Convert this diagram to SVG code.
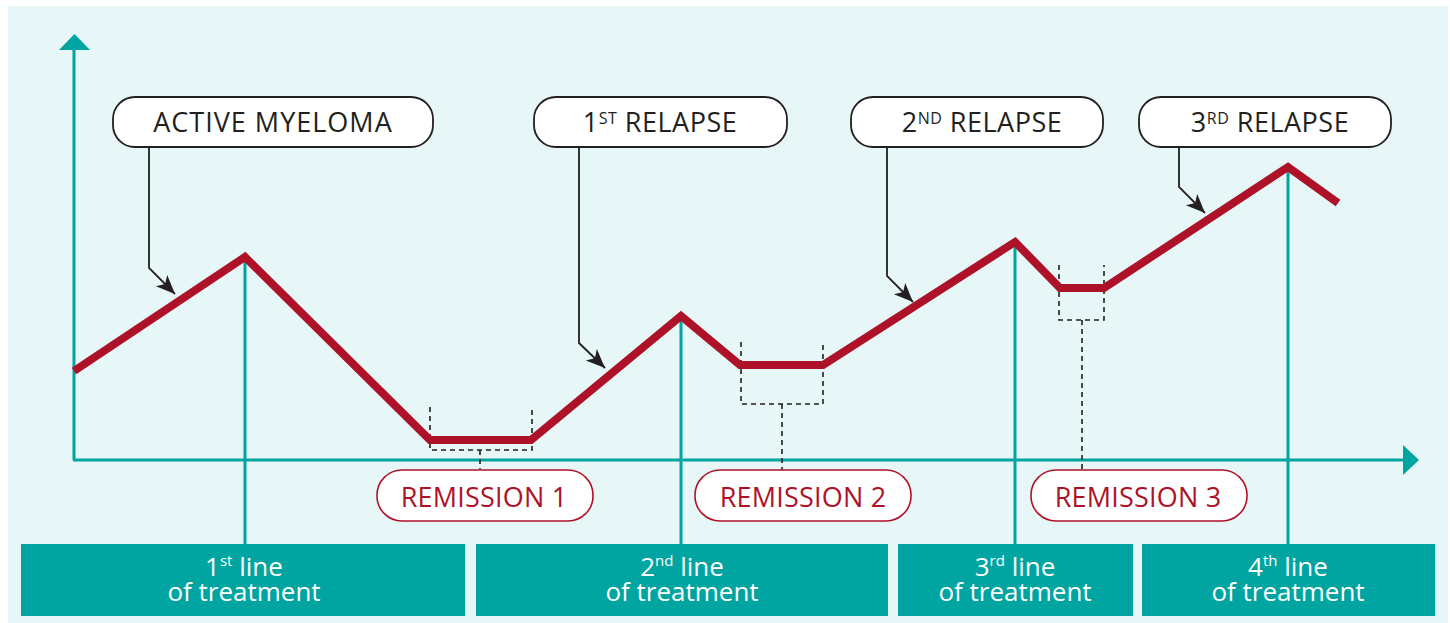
<svg xmlns="http://www.w3.org/2000/svg" width="1450" height="623" viewBox="0 0 1450 623">
  <style>
    .bg { fill: #e7f6f6; }
    .axis { stroke: #00a4a0; stroke-width: 3; fill: none; }
    .vline { stroke: #00a4a0; stroke-width: 3; fill: none; }
    .teal { fill: #00a4a0; }
    .curve { stroke: #ae1228; stroke-width: 8; fill: none; stroke-linejoin: miter; stroke-miterlimit: 10; }
    .callout { fill: #ffffff; stroke: #231f20; stroke-width: 1.8; }
    .pill { fill: #ffffff; stroke: #ae1228; stroke-width: 1.6; }
    .arrow { stroke: #231f20; stroke-width: 1.8; fill: none; }
    .dash { stroke: #231f20; stroke-width: 1.6; fill: none; stroke-dasharray: 5 4; }
    .lbl { font-family: "Open Sans", "Liberation Sans", sans-serif; font-size: 27px; font-weight: 500; fill: #231f20; letter-spacing: 1px; }
    .rel { letter-spacing: 0.5px; }
    .rem { font-family: "Open Sans", "Liberation Sans", sans-serif; font-size: 27px; font-weight: 500; fill: #ae1228; letter-spacing: 0.2px; }
    .tx { font-family: "Open Sans", "Liberation Sans", sans-serif; font-size: 26px; font-weight: 500; fill: #ffffff; }
  </style>
  <defs>
    <marker id="ah" viewBox="-20 -10 22 20" refX="0" refY="0" markerWidth="22" markerHeight="20" markerUnits="userSpaceOnUse" orient="auto">
      <path d="M0,0 L-19,-8 L-14,0 L-19,8 Z" fill="#231f20"/>
    </marker>
  </defs>

  <rect class="bg" x="8" y="6" width="1440" height="617"/>

  <g id="axes">
    <line class="axis" x1="74" y1="48" x2="74" y2="460"/>
    <polygon class="teal" points="59,50 90,50 74.5,34"/>
    <line class="axis" x1="73" y1="460" x2="1405" y2="460"/>
    <polygon class="teal" points="1403,445 1403,475 1419,460"/>
  </g>

  <g id="connectors">
    <line class="vline" x1="245" y1="260" x2="245" y2="545"/>
    <line class="vline" x1="681" y1="318" x2="681" y2="545"/>
    <line class="vline" x1="1015" y1="245" x2="1015" y2="545"/>
    <line class="vline" x1="1288" y1="170" x2="1288" y2="545"/>

    <path class="dash" d="M430,407 V450 H532 V407"/>
    <path class="dash" d="M480,450 V469"/>
    <path class="dash" d="M741,342 V404 H823 V342"/>
    <path class="dash" d="M782,404 V470"/>
    <path class="dash" d="M1059,265 V320 H1104 V265"/>
    <path class="dash" d="M1082,320 V470"/>

    <path class="arrow" d="M149,147 V268 L175,294" marker-end="url(#ah)"/>
    <path class="arrow" d="M579,147 V343 L605,368" marker-end="url(#ah)"/>
    <path class="arrow" d="M887,147 V276 L913,302" marker-end="url(#ah)"/>
    <path class="arrow" d="M1179,147 V187 L1205,213" marker-end="url(#ah)"/>
  </g>

  <g id="curve">
    <polyline class="curve" points="74,371 245,257 430,440 531,440 681,316 740,365 823,365 1015,242 1060,288 1104,288 1288,167 1338,203"/>
  </g>

  <g id="active-myeloma">
    <rect class="callout" x="113" y="97" width="320" height="50" rx="22"/>
    <text class="lbl" x="273" y="132" text-anchor="middle">ACTIVE MYELOMA</text>
  </g>
  <g id="relapse-1">
    <rect class="callout" x="534" y="97" width="253" height="50" rx="22"/>
    <text class="lbl rel" x="660" y="132" text-anchor="middle">1<tspan font-size="16" dy="-8">ST</tspan><tspan dy="8"> RELAPSE</tspan></text>
  </g>
  <g id="relapse-2">
    <rect class="callout" x="851" y="97" width="252" height="50" rx="22"/>
    <text class="lbl rel" x="982" y="132" text-anchor="middle">2<tspan font-size="16" dy="-8">ND</tspan><tspan dy="8"> RELAPSE</tspan></text>
  </g>
  <g id="relapse-3">
    <rect class="callout" x="1139" y="97" width="252" height="50" rx="22"/>
    <text class="lbl rel" x="1270" y="132" text-anchor="middle">3<tspan font-size="16" dy="-8">RD</tspan><tspan dy="8"> RELAPSE</tspan></text>
  </g>

  <g id="remission-1">
    <rect class="pill" x="377" y="470" width="216" height="51" rx="25"/>
    <text class="rem" x="484" y="507" text-anchor="middle">REMISSION 1</text>
  </g>
  <g id="remission-2">
    <rect class="pill" x="695" y="470" width="216" height="51" rx="25"/>
    <text class="rem" x="803" y="507" text-anchor="middle">REMISSION 2</text>
  </g>
  <g id="remission-3">
    <rect class="pill" x="1031" y="470" width="216" height="51" rx="25"/>
    <text class="rem" x="1138" y="507" text-anchor="middle">REMISSION 3</text>
  </g>

  <g id="line-1">
    <rect class="teal" x="21" y="544" width="444" height="72"/>
    <text class="tx" x="244" y="576" text-anchor="middle">1<tspan font-size="15" dy="-10">st</tspan><tspan dy="10"> line</tspan></text>
    <text class="tx" x="244" y="601" text-anchor="middle">of treatment</text>
  </g>
  <g id="line-2">
    <rect class="teal" x="476" y="544" width="412" height="72"/>
    <text class="tx" x="682" y="576" text-anchor="middle">2<tspan font-size="15" dy="-10">nd</tspan><tspan dy="10"> line</tspan></text>
    <text class="tx" x="682" y="601" text-anchor="middle">of treatment</text>
  </g>
  <g id="line-3">
    <rect class="teal" x="898" y="544" width="235" height="72"/>
    <text class="tx" x="1015" y="576" text-anchor="middle">3<tspan font-size="15" dy="-10">rd</tspan><tspan dy="10"> line</tspan></text>
    <text class="tx" x="1015" y="601" text-anchor="middle">of treatment</text>
  </g>
  <g id="line-4">
    <rect class="teal" x="1142" y="544" width="293" height="72"/>
    <text class="tx" x="1288" y="576" text-anchor="middle">4<tspan font-size="15" dy="-10">th</tspan><tspan dy="10"> line</tspan></text>
    <text class="tx" x="1288" y="601" text-anchor="middle">of treatment</text>
  </g>
</svg>
